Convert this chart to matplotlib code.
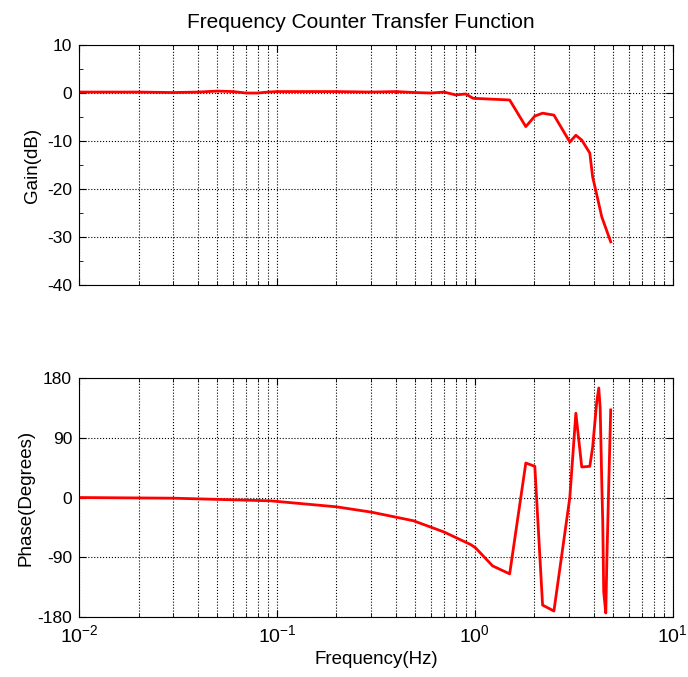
import matplotlib
matplotlib.use("Agg")
import matplotlib.pyplot as plt
from matplotlib.ticker import LogLocator, NullFormatter, MultipleLocator

plt.rcParams['font.family'] = ['Liberation Sans', 'DejaVu Sans']
plt.rcParams['axes.unicode_minus'] = False
plt.rcParams['mathtext.fontset'] = 'custom'
plt.rcParams['mathtext.rm'] = 'Liberation Sans'
plt.rcParams['mathtext.it'] = 'Liberation Sans:italic'
plt.rcParams['mathtext.bf'] = 'Liberation Sans:bold'

# gain curve (Hz, dB)
gain_freq = [0.01, 0.02, 0.03, 0.04, 0.05, 0.06, 0.07, 0.08, 0.09, 0.1,
             0.2, 0.3, 0.4, 0.5, 0.6, 0.7, 0.8, 0.9, 0.98, 1.5,
             1.81, 2.01, 2.2, 2.51, 3.02, 3.24, 3.47, 3.81, 3.94, 4.08,
             4.38, 4.86]
gain_db = [0.2, 0.2, 0.1, 0.2, 0.4, 0.3, 0.0, 0.0, 0.2, 0.3,
           0.3, 0.2, 0.3, 0.1, 0.0, 0.2, -0.4, -0.2, -1.1, -1.45,
           -7.0, -4.8, -4.2, -4.6, -10.2, -8.8, -9.8, -12.5, -17.5, -20.2,
           -25.8, -31.0]

# phase curve (Hz, degrees)
phase_freq = [0.01, 0.03, 0.093, 0.2, 0.3, 0.49, 0.7, 0.955, 1.01, 1.23,
              1.5, 1.81, 2.01, 2.2, 2.51, 3.02, 3.24, 3.47, 3.81, 3.94,
              4.13, 4.23, 4.30, 4.38, 4.43, 4.48, 4.59, 4.65, 4.75, 4.86]
phase_deg = [0, -1, -5, -14, -22, -35, -52, -71, -76, -103,
             -115, 52, 47, -162, -171, 0, 127, 46, 47, 76,
             144, 165, 135, 23, -37, -142, -174, -91, 19, 132]

fig = plt.figure(figsize=(6.88, 6.77), dpi=100)
ax1 = fig.add_axes([0.1148, 0.579, 0.863, 0.3545])
ax2 = fig.add_axes([0.1148, 0.0886, 0.863, 0.353])

for ax in (ax1, ax2):
    ax.set_xscale('log')
    ax.set_xlim(0.01, 10)
    ax.xaxis.set_major_locator(LogLocator(base=10))
    ax.xaxis.set_minor_locator(LogLocator(base=10, subs=range(2, 10)))
    ax.xaxis.set_minor_formatter(NullFormatter())
    ax.grid(True, which='major', linestyle=':', color='black', linewidth=0.8)
    ax.grid(True, which='minor', axis='x', linestyle=':', color='black', linewidth=0.8)
    ax.tick_params(which='both', direction='in', top=True, right=True, pad=5)
    ax.tick_params(axis='y', labelsize=12.5)
    ax.tick_params(axis='x', labelsize=14)
    ax.tick_params(which='major', length=5)
    ax.tick_params(which='minor', length=3)

ax1.plot(gain_freq, gain_db, color='red', linewidth=2)
ax1.set_ylim(-40, 10)
ax1.set_yticks([-40, -30, -20, -10, 0, 10])
ax1.yaxis.set_minor_locator(MultipleLocator(5))
ax1.set_xticklabels([])
ax1.set_ylabel('Gain(dB)', fontsize=13.5, labelpad=4)
ax1.set_title('Frequency Counter Transfer Function', fontsize=15, pad=12, x=0.475)

ax2.plot(phase_freq, phase_deg, color='red', linewidth=2)
ax2.set_ylim(-180, 180)
ax2.set_yticks([-180, -90, 0, 90, 180])
ax2.set_ylabel('Phase(Degrees)', fontsize=13.5, labelpad=2)
ax2.set_xlabel('Frequency(Hz)', fontsize=13.5, labelpad=4)

fig.savefig('out.png', dpi=100)
